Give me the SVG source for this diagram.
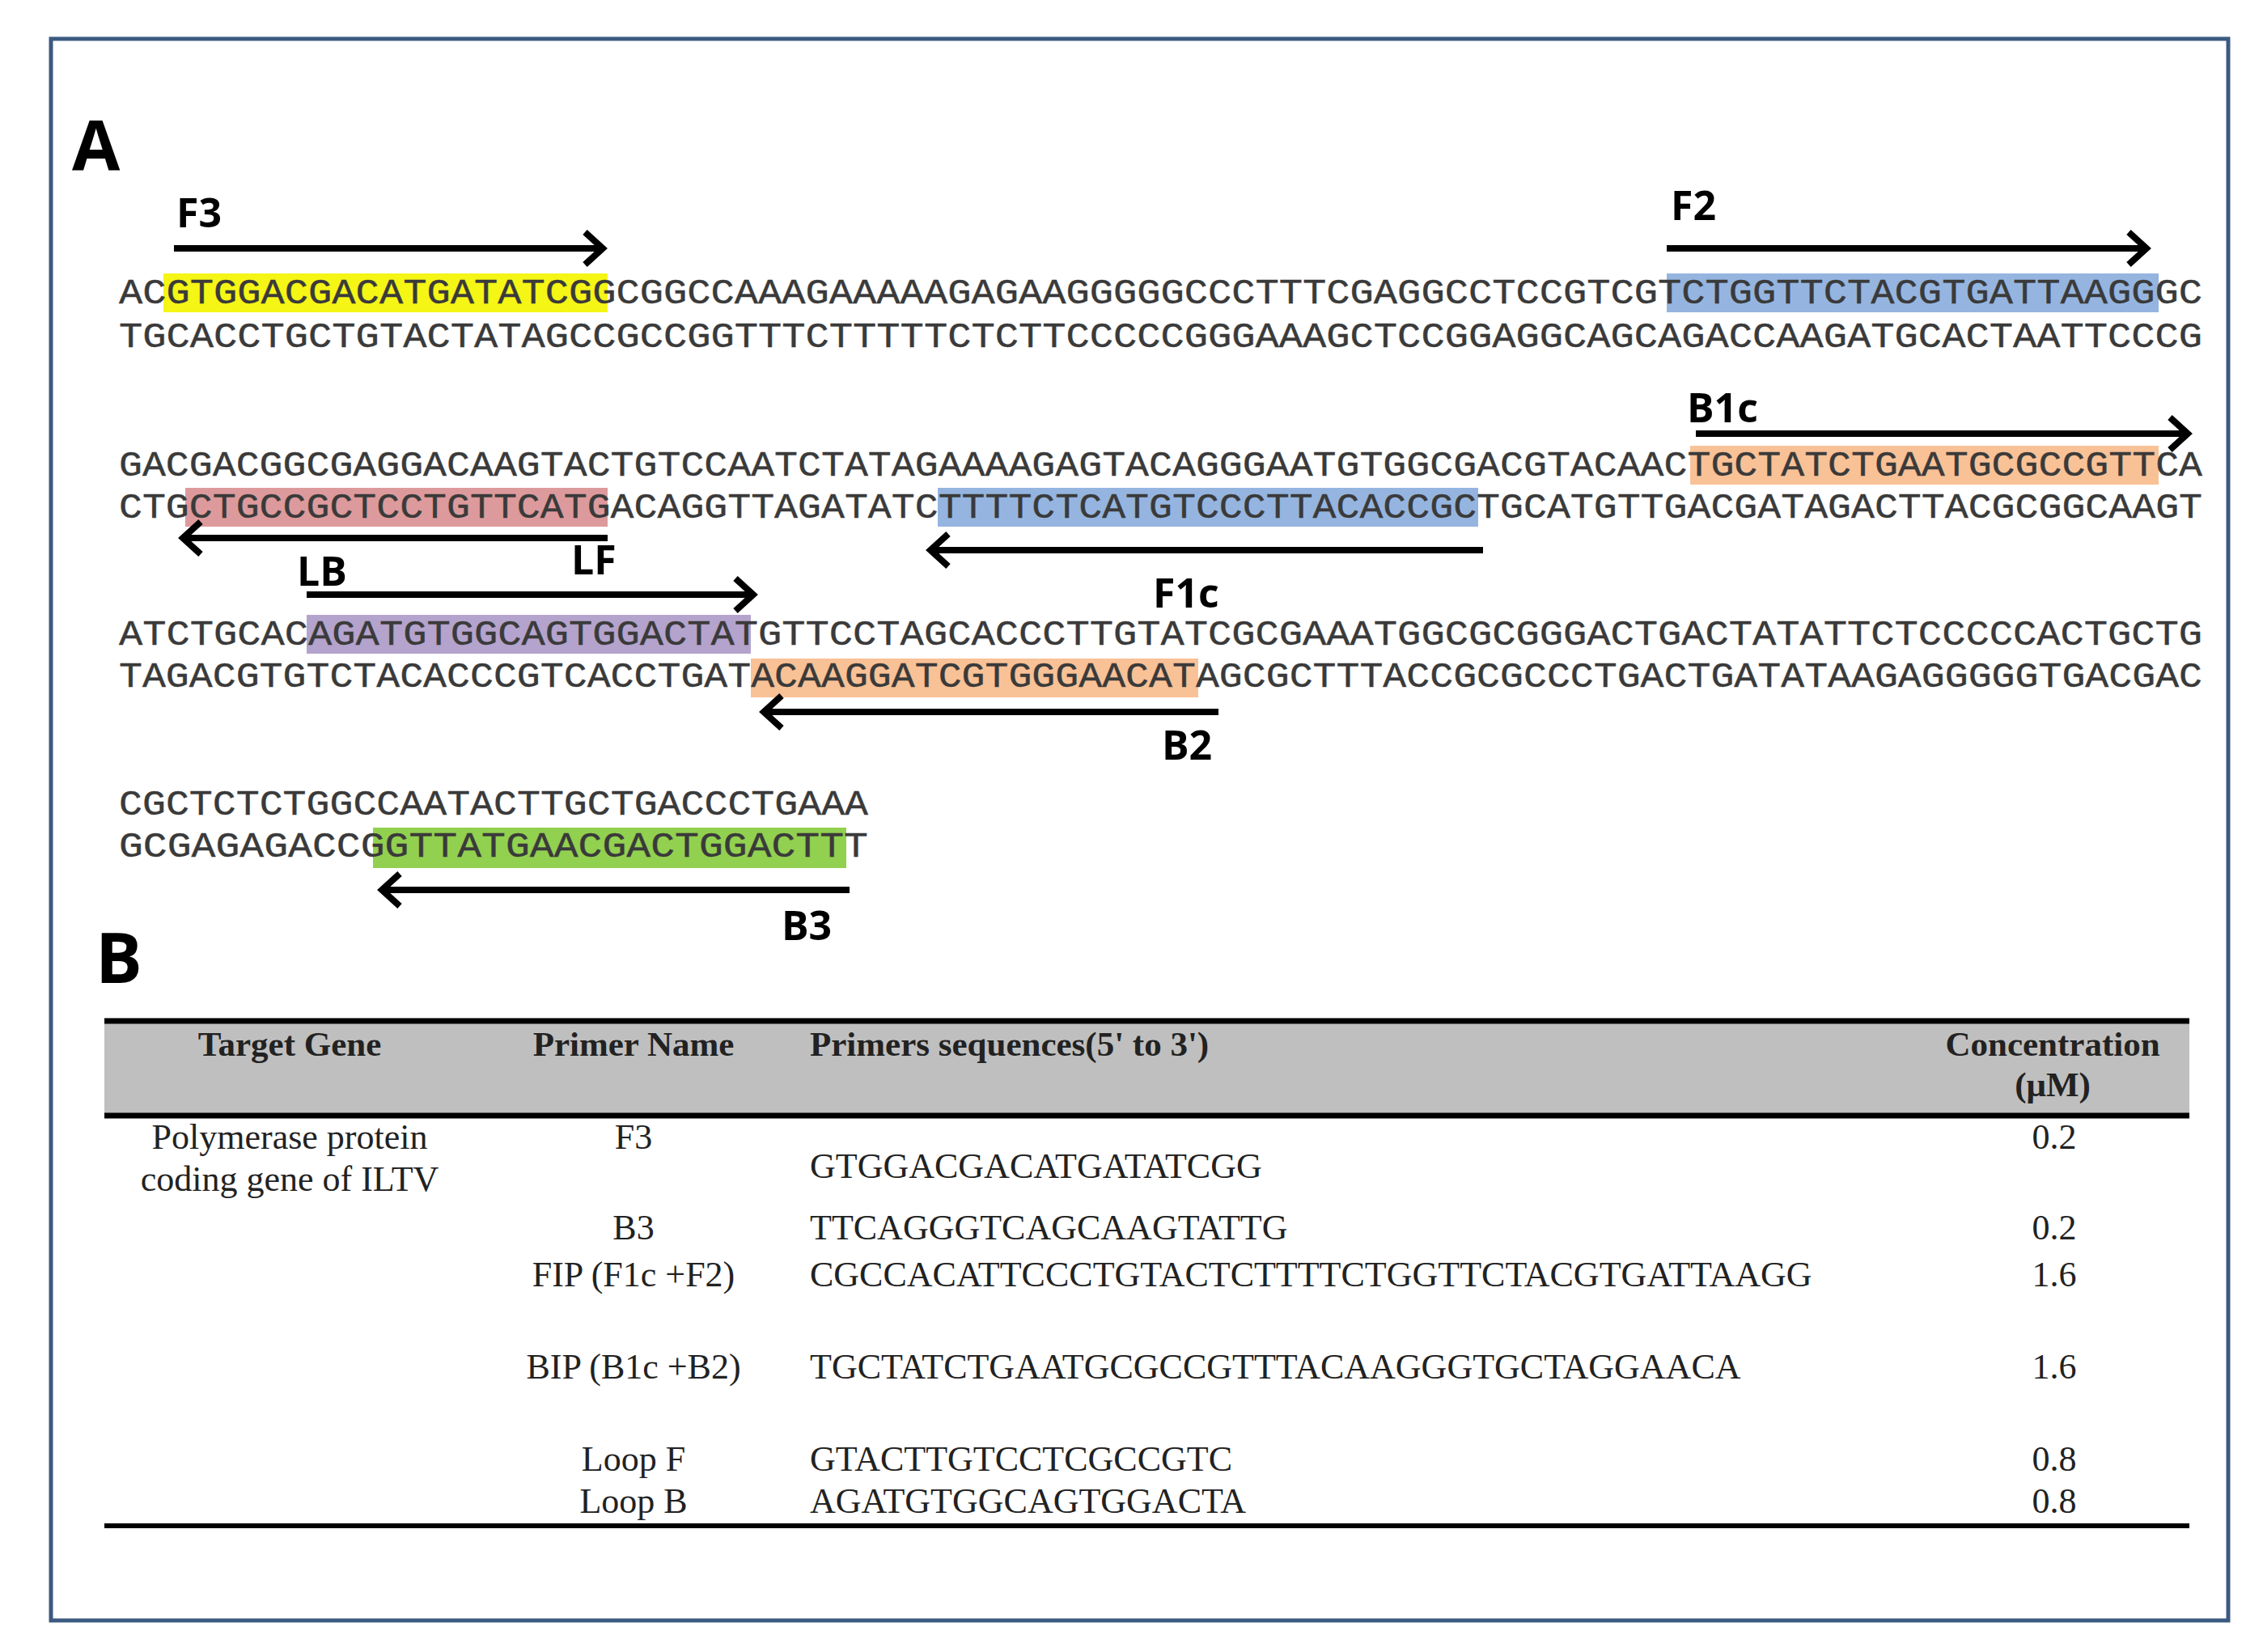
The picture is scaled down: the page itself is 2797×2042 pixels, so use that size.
<svg xmlns="http://www.w3.org/2000/svg" width="2797" height="2042" viewBox="0 0 2797 2042">
<defs>
<style>
.seq{font-family:"Liberation Mono","Courier New",monospace;font-size:44px;fill:#3a3a3a;stroke:#3a3a3a;stroke-width:0.4}
.lab{font-family:"Open Sans","Liberation Sans",sans-serif;font-weight:bold;font-size:50px;fill:#000}
.big{font-family:"Open Sans","Liberation Sans",sans-serif;font-weight:bold;font-size:86px;fill:#000}
.th{font-family:"Liberation Serif","Times New Roman",serif;font-weight:bold;font-size:43px;fill:#222}
.td{font-family:"Liberation Serif","Times New Roman",serif;font-size:44px;fill:#222}
.ar{stroke:#000;stroke-width:8;fill:none;marker-end:url(#h)}
</style>
<marker id="h" markerUnits="userSpaceOnUse" markerWidth="40" markerHeight="50" refX="30" refY="25" orient="auto">
<polyline points="8,5 30,25 8,45" fill="none" stroke="#000" stroke-width="8"/>
</marker>
</defs>
<rect width="2797" height="2042" fill="#fff"/>
<rect x="63" y="48" width="2691" height="1955" fill="#fff" stroke="#3c5a80" stroke-width="5"/>
<text class="big" x="89" y="211">A</text>
<text class="big" x="118" y="1215">B</text>
<g id="highlights">
<rect x="202" y="338" width="549" height="48" fill="#f5f516"/>
<rect x="2060" y="338" width="608" height="48" fill="#95b5e0"/>
<rect x="2089" y="551" width="579" height="48" fill="#f9c196"/>
<rect x="229" y="603" width="522" height="48" fill="#dd9a9c"/>
<rect x="1159" y="603" width="668" height="48" fill="#95b5e0"/>
<rect x="379" y="760" width="549" height="48" fill="#b4a3cc"/>
<rect x="928" y="814" width="553" height="48" fill="#f9c196"/>
<rect x="461" y="1023" width="585" height="50" fill="#92d050"/>
</g>
<g id="sequences">
<text class="seq" x="147" y="375" textLength="2575" lengthAdjust="spacingAndGlyphs">ACGTGGACGACATGATATCGGCGGCCAAAGAAAAAGAGAAGGGGGCCCTTTCGAGGCCTCCGTCGTCTGGTTCTACGTGATTAAGGGC</text>
<text class="seq" x="147" y="429" textLength="2575" lengthAdjust="spacingAndGlyphs">TGCACCTGCTGTACTATAGCCGCCGGTTTCTTTTTCTCTTCCCCCGGGAAAGCTCCGGAGGCAGCAGACCAAGATGCACTAATTCCCG</text>
<text class="seq" x="147" y="588" textLength="2575" lengthAdjust="spacingAndGlyphs">GACGACGGCGAGGACAAGTACTGTCCAATCTATAGAAAAGAGTACAGGGAATGTGGCGACGTACAACTGCTATCTGAATGCGCCGTTCA</text>
<text class="seq" x="147" y="640" textLength="2575" lengthAdjust="spacingAndGlyphs">CTGCTGCCGCTCCTGTTCATGACAGGTTAGATATCTTTTCTCATGTCCCTTACACCGCTGCATGTTGACGATAGACTTACGCGGCAAGT</text>
<text class="seq" x="147" y="797" textLength="2575" lengthAdjust="spacingAndGlyphs">ATCTGCACAGATGTGGCAGTGGACTATGTTCCTAGCACCCTTGTATCGCGAAATGGCGCGGGACTGACTATATTCTCCCCCACTGCTG</text>
<text class="seq" x="147" y="849" textLength="2575" lengthAdjust="spacingAndGlyphs">TAGACGTGTCTACACCCGTCACCTGATACAAGGATCGTGGGAACATAGCGCTTTACCGCGCCCTGACTGATATAAGAGGGGGTGACGAC</text>
<text class="seq" x="147" y="1007" textLength="926" lengthAdjust="spacingAndGlyphs">CGCTCTCTGGCCAATACTTGCTGACCCTGAAA</text>
<text class="seq" x="147" y="1059" textLength="926" lengthAdjust="spacingAndGlyphs">GCGAGAGACCGGTTATGAACGACTGGACTTT</text>
</g>
<g id="connectors">
<line class="ar" x1="215" y1="307" x2="745" y2="307"/>
<line class="ar" x1="2060" y1="307" x2="2653" y2="307"/>
<line class="ar" x1="2096" y1="536" x2="2704" y2="536"/>
<line class="ar" x1="751" y1="665" x2="226" y2="665"/>
<line class="ar" x1="1833" y1="680" x2="1150" y2="680"/>
<line class="ar" x1="379" y1="735" x2="931" y2="735"/>
<line class="ar" x1="1506" y1="880" x2="944" y2="880"/>
<line class="ar" x1="1050" y1="1100" x2="472" y2="1100"/>
</g>
<g id="labels">
<text class="lab" x="218" y="281">F3</text>
<text class="lab" x="2065" y="272">F2</text>
<text class="lab" x="2085" y="522">B1c</text>
<text class="lab" x="706" y="710" font-size="42">LF</text>
<text class="lab" x="367" y="724" font-size="36">LB</text>
<text class="lab" x="1425" y="751">F1c</text>
<text class="lab" x="1436" y="939">B2</text>
<text class="lab" x="966" y="1162">B3</text>
</g>
<g id="table">
<rect x="129" y="1262" width="2577" height="117" fill="#bfbfbf"/>
<line x1="129" y1="1262" x2="2706" y2="1262" stroke="#000" stroke-width="7"/>
<line x1="129" y1="1379" x2="2706" y2="1379" stroke="#000" stroke-width="7"/>
<line x1="129" y1="1886" x2="2706" y2="1886" stroke="#000" stroke-width="6"/>
<text class="th" x="358" y="1305" text-anchor="middle">Target Gene</text>
<text class="th" x="783" y="1305" text-anchor="middle">Primer Name</text>
<text class="th" x="1001" y="1305">Primers sequences(5' to 3')</text>
<text class="th" x="2537" y="1305" text-anchor="middle">Concentration</text>
<text class="th" x="2537" y="1355" text-anchor="middle">(μM)</text>
<text class="td" x="358" y="1420" text-anchor="middle">Polymerase protein</text>
<text class="td" x="358" y="1472" text-anchor="middle">coding gene of ILTV</text>
<text class="td" x="783" y="1420" text-anchor="middle">F3</text>
<text class="td" x="1001" y="1456">GTGGACGACATGATATCGG</text>
<text class="td" x="2539" y="1420" text-anchor="middle">0.2</text>
<text class="td" x="783" y="1532" text-anchor="middle">B3</text>
<text class="td" x="1001" y="1532">TTCAGGGTCAGCAAGTATTG</text>
<text class="td" x="2539" y="1532" text-anchor="middle">0.2</text>
<text class="td" x="783" y="1590" text-anchor="middle">FIP (F1c +F2)</text>
<text class="td" x="1001" y="1590">CGCCACATTCCCTGTACTCTTTTCTGGTTCTACGTGATTAAGG</text>
<text class="td" x="2539" y="1590" text-anchor="middle">1.6</text>
<text class="td" x="783" y="1704" text-anchor="middle">BIP (B1c +B2)</text>
<text class="td" x="1001" y="1704">TGCTATCTGAATGCGCCGTTTACAAGGGTGCTAGGAACA</text>
<text class="td" x="2539" y="1704" text-anchor="middle">1.6</text>
<text class="td" x="783" y="1818" text-anchor="middle">Loop F</text>
<text class="td" x="1001" y="1818">GTACTTGTCCTCGCCGTC</text>
<text class="td" x="2539" y="1818" text-anchor="middle">0.8</text>
<text class="td" x="783" y="1870" text-anchor="middle">Loop B</text>
<text class="td" x="1001" y="1870">AGATGTGGCAGTGGACTA</text>
<text class="td" x="2539" y="1870" text-anchor="middle">0.8</text>
</g>
</svg>
